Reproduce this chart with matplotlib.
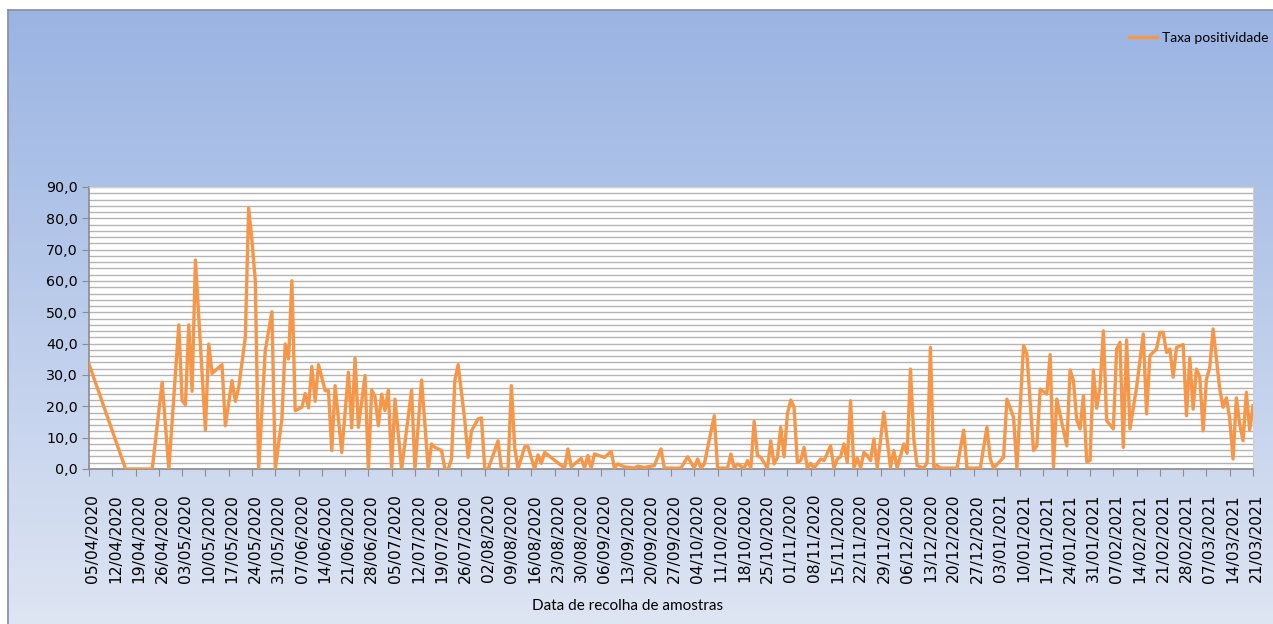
import numpy as np
import matplotlib
matplotlib.use("Agg")
import matplotlib.pyplot as plt
import matplotlib.transforms as mtransforms
from matplotlib.patches import Rectangle
import datetime as dt

# ---- data ----
start_date = dt.date(2020, 4, 5)
day_offsets = [0, 11, 19, 22, 24, 27, 28, 29, 30, 31, 32, 35, 36, 37, 40, 41, 43, 44, 45,
               47, 48, 49, 50, 51, 53, 55, 56, 58, 59, 60, 61, 62, 64, 65, 66, 67, 68, 69,
               71, 72, 73, 74, 76, 78, 79, 80, 81, 83, 84, 85, 86, 87, 88, 89, 90, 91, 92,
               94, 97, 98, 100, 102, 103, 104, 106, 107, 108, 109, 110, 111, 113, 114, 115,
               117, 118, 119, 120, 122, 123, 124, 126, 127, 128, 129, 131, 132, 134, 135,
               136, 137, 143, 144, 145, 148, 149, 150, 151, 152, 155, 157, 158, 159, 161,
               164, 165, 167, 170, 172, 173, 178, 180, 182, 183, 184, 185, 188, 189, 192,
               193, 194, 195, 197, 198, 199, 200, 201, 202, 204, 205, 206, 207, 208, 209,
               210, 211, 212, 213, 214, 215, 216, 217, 218, 220, 221, 223, 224, 225, 226,
               227, 228, 229, 230, 231, 232, 233, 234, 235, 236, 237, 239, 241, 242, 243,
               245, 246, 247, 248, 249, 251, 252, 253, 254, 255, 256, 261, 263, 264, 268,
               270, 271, 272, 275, 276, 278, 279, 281, 282, 284, 285, 286, 288, 289, 290,
               291, 294, 295, 296, 297, 298, 299, 300, 301, 302, 303, 304, 305, 306, 308,
               309, 310, 311, 312, 313, 315, 317, 318, 319, 321, 322, 323, 324, 325, 326,
               327, 329, 330, 331, 332, 333, 334, 335, 336, 337, 338, 340, 341, 342, 343,
               344, 345, 346, 347, 348, 349, 350]
positivity = [33.5, 0, 0, 27.7, 0, 46, 21.8, 20.5, 46, 24.8, 66.7, 12.4, 39.9, 30.5, 33.3, 13.8, 28.2, 21.6, 26,
              42, 83.3, 72.9, 60, 0, 37.8, 50.2, 0, 16, 39.9, 35.1, 60.1, 18.6, 19.7, 24.1, 19.5, 32.7, 21.6, 33.3,
              25, 25, 5.9, 26.6, 5.3, 30.9, 13.1, 35.4, 13.3, 29.8, 0, 25.2, 23.1, 13.8, 23.9, 18.6, 25.2, 0, 22.3,
              0, 25.2, 0, 28.4, 0, 8, 6.9, 5.9, 0, 0, 3.2, 28.2, 33.3, 15.4, 3.7, 12.2,
              16, 16.3, 0, 0, 5.9, 9, 0, 0, 26.6, 6.9, 0, 7.1, 7.1, 0, 4.5,
              1.8, 5.3, 0.3, 6.4, 0.7, 3.4, 0.3, 4.3, 0.3, 4.8, 3.7, 5.6, 0.3, 1.6, 0.7,
              0.3, 0.9, 0.5, 1.1, 6.4, 0.3, 0.3, 3.9, 0.3, 3.2, 0.3, 1.5, 17, 0.3, 0.3,
              4.8, 0.3, 1.6, 0.3, 2.7, 0.3, 15.2, 4.3, 3.7, 0.3, 9, 1.6, 3.7, 13.3, 3.9,
              17.6, 22, 19.7, 2.1, 2.7, 6.9, 0.3, 1.8, 0.3, 3.2, 2.7, 7.4, 0.3, 3.2, 3.9,
              8, 2.1, 21.8, 0.3, 3.5, 0.3, 5.3, 4.3, 2.7, 9.6, 0.3, 18.1, 0.5, 5.9, 0.3,
              8, 5, 31.9, 9.6, 1.1, 0.3, 2.1, 38.8, 0.7, 1.1, 0.3, 0.3, 12.4, 0.3, 0.3,
              13.3, 3.2, 0.3, 3.7, 22.3, 16.5, 0.3, 39.4, 36.7, 5.9, 7.4, 25.5, 23.9, 36.5, 0.7,
              22.3, 7.4, 31.6, 28.2, 15.6, 12.8, 23.4, 2.4, 2.7, 31.6, 19.4, 26.1, 44.1, 15.4, 12.8,
              38.3, 40.4, 6.9, 41.2, 12.8, 26.1, 43.1, 17.6, 36.2, 38.3, 43.6, 43.6, 37.2, 38.3, 29.3,
              38.8, 39.7, 17, 35.4, 19.1, 31.9, 29.3, 12.2, 28.7, 32.4, 44.7, 25.5, 19.7, 22.7, 16,
              3.2, 22.7, 14.4, 9, 24.5, 12.4, 20.2]
series_label = "Taxa positividade"
x_title = "Data de recolha de amostras"
y_ticks = list(range(0, 91, 10))

dates = [start_date + dt.timedelta(days=d) for d in day_offsets]
end_date = start_date + dt.timedelta(days=day_offsets[-1])

# ---- figure ----
W, H = 1273, 624
fig = plt.figure(figsize=(W / 100, H / 100), dpi=100)

# background gradient
bg = fig.add_axes([0, 0, 1, 1], zorder=-10)
top = np.array([0x99, 0xb3, 0xe3]) / 255
bot = np.array([0xde, 0xe5, 0xf3]) / 255
t = np.linspace(0, 1, 256)[:, None]
grad = top[None, :] * (1 - t) + bot[None, :] * t
bg.imshow(grad[:, None, :].repeat(2, axis=1), aspect="auto", extent=[0, 1, 0, 1],
          origin="upper")
bg.set_xlim(0, 1)
bg.set_ylim(0, 1)
bg.axis("off")
# white margin and border
bg.add_patch(Rectangle((0, 0), 7 / W, 1, color="white", zorder=2))
bg.add_patch(Rectangle((0, 1 - 9 / H), 1, 9 / H, color="white", zorder=2))
bg.plot([7.5 / W, 7.5 / W], [0, 1 - 9.5 / H], color="#8a93a6", lw=1.3, zorder=3)
bg.plot([7.5 / W, 1], [1 - 9.5 / H, 1 - 9.5 / H], color="#8a93a6", lw=1.3, zorder=3)

left, right, bottom_px, top_px = 89, 1253, 469, 187
ax = fig.add_axes([left / W, 1 - bottom_px / H, (right - left) / W, (bottom_px - top_px) / H])
ax.set_facecolor("white")

ax.plot(dates, positivity, color="#f79646", lw=2.4, solid_joinstyle="round",
        label=series_label, zorder=3)

ax.set_xlim(start_date, end_date)
ax.set_ylim(0, 90)
ax.set_yticks(y_ticks)
ax.set_yticklabels([f"{v:.1f}".replace(".", ",") for v in y_ticks], fontsize=10.3,
                   family="DejaVu Sans")
ax.set_yticks(np.arange(0, 91, 2), minor=True)
ax.grid(True, which="both", axis="y", color="#b4b4b4", lw=1.0, zorder=0)
ax.tick_params(axis="y", which="minor", length=0)

weekly = [start_date + dt.timedelta(days=7 * k) for k in range(0, 51)]
ax.set_xticks(weekly)
ax.set_xticklabels([d.strftime("%d/%m/%Y") for d in weekly], rotation=90, fontsize=11.2,
                   family="DejaVu Sans")
ax.tick_params(axis="both", which="major", length=5, color="#8c8c8c", direction="out",
               pad=3)
ax.tick_params(axis="x", pad=13)
shift = mtransforms.ScaledTranslation(3.5 / 100, 0, fig.dpi_scale_trans)
for lbl in ax.get_xticklabels():
    lbl.set_transform(lbl.get_transform() + shift)

for side in ("left", "bottom"):
    ax.spines[side].set_color("#8c8c8c")
    ax.spines[side].set_linewidth(1.2)
for side in ("top", "right"):
    ax.spines[side].set_color("#d0d0d0")
    ax.spines[side].set_linewidth(0.8)

fig.text(628 / W, 1 - 606 / H, x_title, ha="center", va="center", fontsize=11,
         family="Lato")

leg = ax.legend(loc="center right", bbox_to_anchor=(1269 / W, 1 - 38 / H),
                bbox_transform=fig.transFigure, frameon=False,
                prop={"family": "Lato", "size": 10}, handlelength=2.0, handletextpad=0.4,
                borderaxespad=0, borderpad=0)

fig.savefig("out.png", dpi=100)
